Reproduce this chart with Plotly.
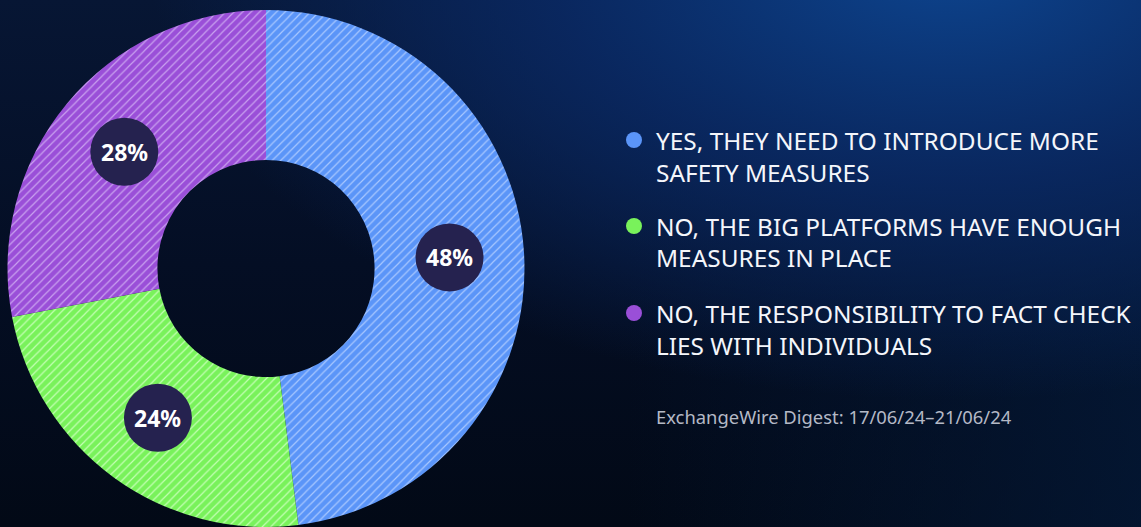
import base64
import numpy as np
import plotly.graph_objects as go

# Survey answers and their shares (%)
labels = [
    "YES, THEY NEED TO INTRODUCE MORE SAFETY MEASURES",
    "NO, THE BIG PLATFORMS HAVE ENOUGH MEASURES IN PLACE",
    "NO, THE RESPONSIBILITY TO FACT CHECK LIES WITH INDIVIDUALS",
]
legend_lines = [
    ["YES, THEY NEED TO INTRODUCE MORE", "SAFETY MEASURES"],
    ["NO, THE BIG PLATFORMS HAVE ENOUGH", "MEASURES IN PLACE"],
    ["NO, THE RESPONSIBILITY TO FACT CHECK", "LIES WITH INDIVIDUALS"],
]
values = [48, 24, 28]
source_note = "ExchangeWire Digest: 17/06/24\u201321/06/24"

slice_colors = ["#5b95f8", "#79f25b", "#9a4fd8"]
stripe_colors = ["#a9c8ff", "#c4ffb4", "#c9a2ef"]

W, H = 1141, 527
HOLE = 0.42

# Donut geometry in pixels
dom_x = (7, 525)
dom_top = 10
R = (dom_x[1] - dom_x[0]) / 2
cx = (dom_x[0] + dom_x[1]) / 2
cy = dom_top + R

# Background: dark navy with a blue glow towards the top right
bg_svg = f"""<svg xmlns="http://www.w3.org/2000/svg" width="{W}" height="{H}" viewBox="0 0 {W} {H}">
<defs>
<linearGradient id="base" x1="0" y1="0" x2="0" y2="1">
<stop offset="0" stop-color="#071634"/>
<stop offset="0.5" stop-color="#040e24"/>
<stop offset="1" stop-color="#020916"/>
</linearGradient>
<linearGradient id="side" x1="0" y1="0" x2="1" y2="0">
<stop offset="0.55" stop-color="#041a3a" stop-opacity="0"/>
<stop offset="1" stop-color="#041a3a" stop-opacity="0.7"/>
</linearGradient>
<radialGradient id="glow" gradientUnits="userSpaceOnUse" cx="950" cy="-40" r="800"
 gradientTransform="translate(950,-40) scale(1,0.55) translate(-950,40)">
<stop offset="0" stop-color="#0d4590" stop-opacity="1"/>
<stop offset="0.5" stop-color="#0a2a66" stop-opacity="0.85"/>
<stop offset="1" stop-color="#0a2a66" stop-opacity="0"/>
</radialGradient>
</defs>
<rect width="{W}" height="{H}" fill="url(#base)"/>
<rect width="{W}" height="{H}" fill="url(#side)"/>
<rect width="{W}" height="{H}" fill="url(#glow)"/>
</svg>"""
bg_uri = "data:image/svg+xml;base64," + base64.b64encode(bg_svg.encode()).decode()

fig = go.Figure()
fig.add_trace(go.Pie(
    labels=labels,
    values=values,
    hole=HOLE,
    sort=False,
    direction="clockwise",
    rotation=0,
    textinfo="none",
    hoverinfo="label+percent",
    showlegend=False,
    marker=dict(
        colors=slice_colors,
        line=dict(width=0),
        pattern=dict(
            shape="/",
            bgcolor=slice_colors,
            fgcolor=stripe_colors,
            size=6,
            solidity=0.2,
        ),
    ),
    domain=dict(x=[dom_x[0] / W, dom_x[1] / W], y=[0, 1 - dom_top / H]),
))

def px_x(x):
    return x / W

def px_y(y):
    return 1 - y / H

shapes = []
annotations = []

# Percentage badges at the middle of each slice
total = float(sum(values))
ends = np.cumsum(values) / total * 360.0
starts = ends - np.array(values) / total * 360.0
r_lab = R * (1 + HOLE) / 2
badge_r = 34
for v, a0, a1 in zip(values, starts, ends):
    th = np.radians((a0 + a1) / 2)
    bx = cx + r_lab * np.sin(th)
    by = cy - r_lab * np.cos(th)
    shapes.append(dict(
        type="circle", xref="paper", yref="paper", layer="above",
        x0=px_x(bx - badge_r), x1=px_x(bx + badge_r),
        y0=px_y(by + badge_r), y1=px_y(by - badge_r),
        fillcolor="#25224f", line=dict(width=0),
    ))
    annotations.append(dict(
        x=px_x(bx), y=px_y(by), xref="paper", yref="paper",
        text=f"<b>{v}%</b>", showarrow=False,
        font=dict(family="Noto Sans", size=23, color="#ffffff"),
        xanchor="center", yanchor="middle",
    ))

# Custom legend with round markers
legend_y = [140, 226, 313]
line_gap = 32
for color, lines, y0 in zip(slice_colors, legend_lines, legend_y):
    shapes.append(dict(
        type="circle", xref="paper", yref="paper", layer="above",
        x0=px_x(634 - 8), x1=px_x(634 + 8),
        y0=px_y(y0 + 8), y1=px_y(y0 - 8),
        fillcolor=color, line=dict(width=0),
    ))
    for i, txt in enumerate(lines):
        annotations.append(dict(
            x=px_x(654), y=px_y(y0 + i * line_gap), xref="paper", yref="paper",
            text=txt, showarrow=False,
            font=dict(family="Noto Sans", size=24.4, color="#f4f6fb"),
            xanchor="left", yanchor="middle",
        ))

annotations.append(dict(
    x=px_x(654), y=px_y(416), xref="paper", yref="paper",
    text=source_note, showarrow=False,
    font=dict(family="Noto Sans", size=18.4, color="#b4b9c6"),
    xanchor="left", yanchor="middle",
))

fig.update_layout(
    width=W, height=H,
    margin=dict(l=0, r=0, t=0, b=0),
    paper_bgcolor="#040e24",
    plot_bgcolor="rgba(0,0,0,0)",
    shapes=shapes,
    annotations=annotations,
    images=[dict(
        source=bg_uri, xref="paper", yref="paper",
        x=0, y=1, sizex=1, sizey=1, xanchor="left", yanchor="top",
        sizing="stretch", layer="below",
    )],
)

fig.write_html("out.html")
